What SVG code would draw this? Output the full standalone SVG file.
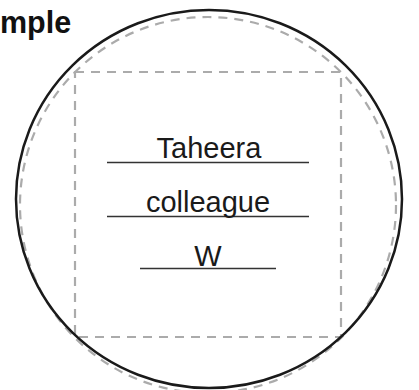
<svg xmlns="http://www.w3.org/2000/svg" width="419" height="390" viewBox="0 0 419 390">
<style>
.guide{fill:none;stroke:#ababab;stroke-width:2.2;stroke-dasharray:9 7}
.outline{fill:none;stroke:#1a1a1a;stroke-width:2.5}
.rule{stroke:#333;stroke-width:1.5}
.hand{font-family:"Liberation Sans",Arial,sans-serif;font-size:29px;fill:#1a1a1a;text-anchor:middle}
.title{font-family:"Liberation Sans",Arial,sans-serif;font-size:30.5px;font-weight:bold;fill:#111}
</style>
<rect width="419" height="390" fill="#fff"/>
<text class="title" x="0" y="33">mple</text>
<g id="guides">
<circle class="guide" cx="208" cy="205" r="188"/>
<rect class="guide" x="75" y="72" width="266" height="265"/>
</g>
<g id="outline">
<ellipse class="outline" cx="209" cy="199" rx="193" ry="189"/>
</g>
<g id="connectors"></g>
<g id="line1">
<line class="rule" x1="107" y1="162.5" x2="309" y2="162.5"/>
<text class="hand" x="209" y="158">Taheera</text>
</g>
<g id="line2">
<line class="rule" x1="107" y1="216.5" x2="309" y2="216.5"/>
<text class="hand" x="208" y="212">colleague</text>
</g>
<g id="line3">
<line class="rule" x1="140" y1="268.5" x2="276" y2="268.5"/>
<text class="hand" x="208" y="266">W</text>
</g>
</svg>
